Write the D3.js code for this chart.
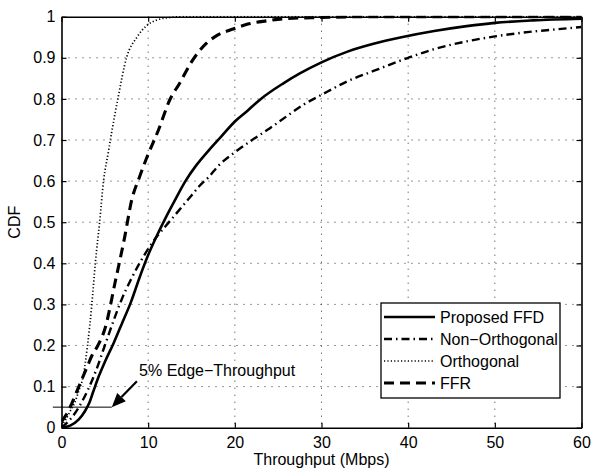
<!DOCTYPE html>
<html>
<head>
<meta charset="utf-8">
<script src="https://cdn.jsdelivr.net/npm/d3@7"></script>
<style>
  body { margin: 0; background: #fff; }
  text { font-family: "Liberation Sans", Arial, Helvetica, sans-serif; }
</style>
</head>
<body>
<div id="chart"></div>
<script>
// CDF curves, [throughput Mbps, cdf]
var proposedFFD = [[0,0],[1,0.005],[2,0.02],[2.7,0.04],[3.2,0.06],[3.7,0.09],[4.3,0.125],[5,0.16],[6,0.205],[7,0.255],
  [8,0.305],[9,0.365],[10,0.42],[11,0.467],[12,0.51],[13,0.55],[14.3,0.6],[15.5,0.637],[17,0.675],
  [18.5,0.71],[20,0.745],[21.5,0.772],[23,0.8],[25.6,0.838],[27.5,0.862],[30,0.889],[33,0.915],[36,0.934],
  [39.5,0.951],[43,0.965],[46.75,0.977],[50,0.985],[54.4,0.991],[60,0.995]];
var nonOrthogonal = [[0,0],[1,0.02],[2,0.05],[3,0.09],[4,0.14],[5,0.2],[6,0.26],[7,0.315],[8,0.36],[9,0.4],
  [10,0.435],[11,0.465],[12,0.49],[13,0.515],[14,0.54],[15,0.565],[16,0.59],[17,0.61],[18,0.635],[20,0.67],
  [22,0.7],[24,0.728],[26,0.758],[28,0.787],[30,0.81],[33,0.843],[36,0.868],[40,0.9],[43,0.921],[47,0.941],
  [50,0.952],[54,0.963],[57,0.969],[60,0.975]];
var orthogonal = [[0,0.005],[0.5,0.02],[1,0.04],[1.5,0.06],[2,0.09],[2.5,0.125],[3,0.2],[3.5,0.3],[3.9,0.4],
  [4.4,0.5],[4.85,0.6],[5.4,0.67],[5.8,0.72],[6.5,0.8],[7.5,0.9],[8.7,0.95],[9.8,0.978],[11,0.992],[12.5,0.998],[14,1],[60,1]];
var ffr = [[0,0.015],[0.5,0.03],[1,0.05],[1.6,0.08],[2.3,0.115],[3,0.15],[3.5,0.175],[4.2,0.2],[5,0.24],
  [6.2,0.355],[7.3,0.465],[8.1,0.554],[9,0.61],[9.8,0.655],[11.2,0.725],[12.5,0.798],[13.6,0.837],[15,0.89],
  [16.7,0.935],[18,0.955],[19.8,0.97],[21.5,0.982],[23.7,0.99],[25.6,0.995],[30,0.998],[34.5,1],[60,1]];

var xTicks = [0, 10, 20, 30, 40, 50, 60];
var yTicks = [0, 0.1, 0.2, 0.3, 0.4, 0.5, 0.6, 0.7, 0.8, 0.9, 1];
var seriesNames = ["Proposed FFD", "Non\u2212Orthogonal", "Orthogonal", "FFR"];
var edgeLabel = "5% Edge\u2212Throughput";

var series = [
  { name: seriesNames[0], data: proposedFFD, dash: null, w: 2.6 },
  { name: seriesNames[1], data: nonOrthogonal, dash: "8,4,1.5,4", w: 2.4 },
  { name: seriesNames[2], data: orthogonal, dash: "1.2,2.2", w: 1.7 },
  { name: seriesNames[3], data: ffr, dash: "10,6", w: 3.1 }
];

var margin = { top: 16.7, right: 10.5, bottom: 40.3, left: 61.5 },
    width = 592 - margin.left - margin.right,
    height = 468 - margin.top - margin.bottom;

var svg = d3.select("#chart").append("svg")
    .attr("width", 592)
    .attr("height", 468)
    .append("g")
    .attr("transform", "translate(" + margin.left + "," + margin.top + ")");

var x = d3.scaleLinear().domain([0, 60]).range([0, width]);
var y = d3.scaleLinear().domain([0, 1]).range([height, 0]);

// grid
svg.append("g").selectAll("line").data(xTicks.slice(1, -1)).enter().append("line")
    .attr("x1", function(d) { return x(d); }).attr("x2", function(d) { return x(d); })
    .attr("y1", 0).attr("y2", height)
    .attr("stroke", "#333").attr("stroke-width", 1).attr("stroke-dasharray", "1,6");
svg.append("g").selectAll("line").data(yTicks.slice(1, -1)).enter().append("line")
    .attr("y1", function(d) { return y(d); }).attr("y2", function(d) { return y(d); })
    .attr("x1", 0).attr("x2", width)
    .attr("stroke", "#333").attr("stroke-width", 1).attr("stroke-dasharray", "1,6");

// axes (ticks inward on all sides)
var fmtY = function(d) { return d === 0 || d === 1 ? d3.format("d")(d) : d3.format(".1f")(d); };
var axB = svg.append("g").attr("transform", "translate(0," + height + ")")
    .call(d3.axisBottom(x).tickValues(xTicks).tickSizeInner(-5).tickSizeOuter(0).tickPadding(9));
var axT = svg.append("g")
    .call(d3.axisTop(x).tickValues(xTicks).tickSizeInner(-5).tickSizeOuter(0).tickFormat(""));
var axL = svg.append("g")
    .call(d3.axisLeft(y).tickValues(yTicks).tickSizeInner(-5).tickSizeOuter(0).tickPadding(6).tickFormat(fmtY));
var axR = svg.append("g").attr("transform", "translate(" + width + ",0)")
    .call(d3.axisRight(y).tickValues(yTicks).tickSizeInner(-5).tickSizeOuter(0).tickFormat(""));
[axB, axT, axL, axR].forEach(function(a) {
  a.select(".domain").attr("stroke", "#000").attr("stroke-width", 1.6);
  a.selectAll(".tick line").attr("stroke", "#000").attr("stroke-width", 1.2);
  a.selectAll("text").attr("font-size", "16px").attr("fill", "#000")
    .style("font-family", "'Liberation Sans', Arial, sans-serif");
});

// curves
var line = d3.line()
    .x(function(d) { return x(d[0]); })
    .y(function(d) { return y(d[1]); })
    .curve(d3.curveMonotoneX);

svg.append("clipPath").attr("id", "plotclip").append("rect")
    .attr("width", width).attr("height", height + 2).attr("y", -1);

series.forEach(function(s) {
  svg.append("path").datum(s.data)
    .attr("clip-path", "url(#plotclip)")
    .attr("d", line)
    .attr("fill", "none")
    .attr("stroke", "#000")
    .attr("stroke-width", s.w)
    .attr("stroke-dasharray", s.dash);
});

// 5% edge-throughput annotation
svg.append("line")
    .attr("x1", x(-1)).attr("x2", x(5.8))
    .attr("y1", y(0.05)).attr("y2", y(0.05))
    .attr("stroke", "#000").attr("stroke-width", 1);

var tip = [x(5.8), y(0.05)], tail = [x(8.7), y(0.113)];
var ang = Math.atan2(tail[1] - tip[1], tail[0] - tip[0]);
var hl = 14, hw = 6;
var bx = tip[0] + hl * Math.cos(ang), by = tip[1] + hl * Math.sin(ang);
svg.append("line")
    .attr("x1", tail[0]).attr("y1", tail[1]).attr("x2", bx).attr("y2", by)
    .attr("stroke", "#000").attr("stroke-width", 2.2);
svg.append("path")
    .attr("d", "M" + tip[0] + "," + tip[1] +
      "L" + (bx + hw * Math.sin(ang)) + "," + (by - hw * Math.cos(ang)) +
      "L" + (bx - hw * Math.sin(ang)) + "," + (by + hw * Math.cos(ang)) + "Z")
    .attr("fill", "#000");

svg.append("text")
    .attr("x", x(8.95)).attr("y", y(0.125))
    .attr("font-size", "16px")
    .text(edgeLabel);

// axis titles
svg.append("text")
    .attr("x", width / 2).attr("y", height + 37.5)
    .attr("text-anchor", "middle").attr("font-size", "16px")
    .text("Throughput (Mbps)");
svg.append("text")
    .attr("transform", "translate(" + (-42) + "," + (height / 2) + ") rotate(-90)")
    .attr("text-anchor", "middle").attr("font-size", "16px")
    .text("CDF");

// legend
var lg = svg.append("g").attr("transform", "translate(" + (381 - margin.left) + "," + (303 - margin.top) + ")");
lg.append("rect").attr("width", 179).attr("height", 95)
    .attr("fill", "#fff").attr("stroke", "#000").attr("stroke-width", 1.3);
series.forEach(function(s, i) {
  var yy = 14 + i * 22;
  lg.append("line").attr("x1", 3).attr("x2", 54).attr("y1", yy).attr("y2", yy)
    .attr("stroke", "#000").attr("stroke-width", s.w).attr("stroke-dasharray", s.dash);
  lg.append("text").attr("x", 59).attr("y", yy + 5.5).attr("font-size", "16px").text(s.name);
});
</script>
</body>
</html>
